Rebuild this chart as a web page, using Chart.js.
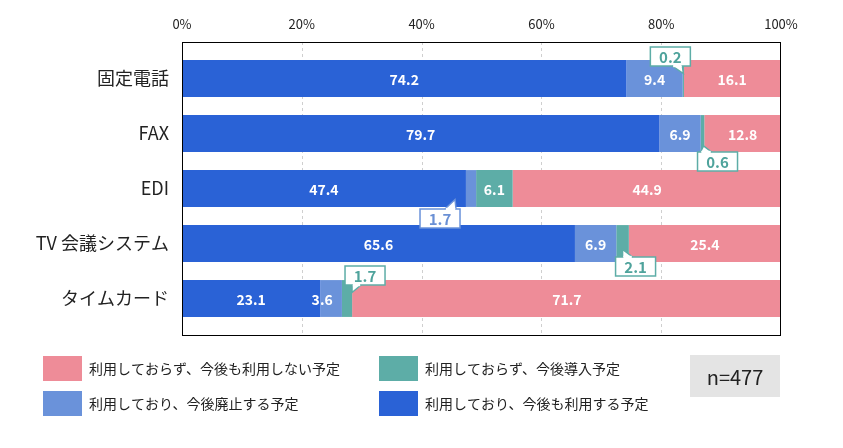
<!DOCTYPE html>
<html><head><meta charset="utf-8">
<script src="https://cdn.jsdelivr.net/npm/chart.js@4"></script>
<style>html,body{margin:0;padding:0;background:#fff}#wrap{width:843px;height:448px;position:relative}</style>
</head><body><div id="wrap"><canvas id="c"></canvas></div>
<script>
const categories = ['固定電話', 'FAX', 'EDI', 'TV 会議システム', 'タイムカード'];
const keepUsing = [74.2, 79.7, 47.4, 65.6, 23.1];   // 利用しており、今後も利用する予定
const abolish = [9.4, 6.9, 1.7, 6.9, 3.6];          // 利用しており、今後廃止する予定
const introduce = [0.2, 0.6, 6.1, 2.1, 1.7];        // 利用しておらず、今後導入予定
const notUsing = [16.1, 12.8, 44.9, 25.4, 71.7];    // 利用しておらず、今後も利用しない予定
const seriesNames = ['利用しており、今後も利用する予定', '利用しており、今後廃止する予定', '利用しておらず、今後導入予定', '利用しておらず、今後も利用しない予定'];
const xTickValues = [0, 20, 40, 60, 80, 100];
const sampleLabel = 'n=477';

const COLORS = ['#2a62d6', '#6a92da', '#5dada7', '#ee8c98'];
const CALLOUT_TEXT = ['#2a62d6', '#6a90d5', '#4fa39c', '#ee8c98'];
const FONT = '"Noto Sans CJK JP", "Noto Sans", sans-serif';
const EXT = 9; // frame extends beyond chart area

// callout layout (style): key "dataset-index"
const callouts = {
  '2-0': {box: [-13, -22], tip: [0, -5], base: [-11, -1]},
  '2-1': {box: [15, 28], tip: [1, 12.5], base: [-3, 8]},
  '1-2': {box: [-31, 30], tip: [-16, 11], base: [-10, 1]},
  '2-3': {box: [13, 23], tip: [0, 6], base: [0, 10]},
  '2-4': {box: [18, -23], tip: [5, -6], base: [0, 9]}
};
const labelShift = {'1-4': -9};

const seriesData = [keepUsing, abolish, introduce, notUsing];

const decor = {
  id: 'decor',
  beforeDatasetsDraw(chart) {
    const {ctx, chartArea: a, scales: {x}} = chart;
    ctx.save();
    ctx.strokeStyle = '#cfcfcf';
    ctx.lineWidth = 1;
    ctx.setLineDash([3, 3]);
    xTickValues.slice(1, -1).forEach(v => {
      const px = Math.round(x.getPixelForValue(v)) + 0.5;
      ctx.beginPath();
      ctx.moveTo(px, a.top - EXT);
      ctx.lineTo(px, a.bottom + EXT);
      ctx.stroke();
    });
    ctx.restore();
  },
  afterDatasetsDraw(chart) {
    const {ctx, chartArea: a} = chart;
    ctx.save();
    ctx.textAlign = 'center';
    ctx.textBaseline = 'middle';
    chart.data.datasets.forEach((ds, di) => {
      const meta = chart.getDatasetMeta(di);
      meta.data.forEach((bar, i) => {
        const v = ds.data[i];
        const key = di + '-' + i;
        const cx = (bar.x + bar.base) / 2;
        const cy = bar.y;
        if (callouts[key]) {
          const c = callouts[key];
          const bw = 40, bh = 19;
          const bx = cx + c.box[0] - bw / 2, by = cy + c.box[1] - bh / 2;
          const tx = cx + c.tip[0], ty = cy + c.tip[1];
          const above = c.box[1] < 0;
          const edge = above ? by + bh : by;
          ctx.fillStyle = '#fff';
          ctx.strokeStyle = COLORS[di];
          ctx.lineWidth = 1.5;
          ctx.fillRect(bx, by, bw, bh);
          ctx.strokeRect(bx, by, bw, bh);
          const b1 = tx + c.base[0], b2 = tx + c.base[1];
          ctx.beginPath();
          ctx.moveTo(b1, edge);
          ctx.lineTo(tx, ty);
          ctx.lineTo(b2, edge);
          ctx.closePath();
          ctx.fill();
          ctx.beginPath();
          ctx.moveTo(b1, edge);
          ctx.lineTo(tx, ty);
          ctx.lineTo(b2, edge);
          ctx.stroke();
          ctx.fillRect(Math.min(b1, b2) + 0.8, edge - 1.2, Math.abs(b2 - b1) - 1.6, 2.4);
          ctx.fillStyle = CALLOUT_TEXT[di];
          ctx.font = 'bold 15px ' + FONT;
          ctx.fillText(v.toFixed(1), bx + bw / 2, by + bh / 2 + 1);
        } else {
          ctx.fillStyle = '#fff';
          ctx.font = 'bold 14px ' + FONT;
          ctx.fillText(v.toFixed(1), cx + (labelShift[key] || 0), cy + 1);
        }
      });
    });
    ctx.strokeStyle = '#000';
    ctx.lineWidth = 1;
    ctx.setLineDash([]);
    ctx.strokeRect(Math.round(a.left) + 0.5, Math.round(a.top - EXT) + 0.5, Math.round(a.right - a.left) - 1, Math.round(a.bottom - a.top + 2 * EXT));
    ctx.restore();
  },
  afterDraw(chart) {
    const {ctx} = chart;
    ctx.save();
    const order = [3, 2, 1, 0];
    const pos = [[43, 356], [379, 356], [43, 391], [379, 391]];
    ctx.textAlign = 'left';
    ctx.textBaseline = 'middle';
    ctx.font = '14px ' + FONT;
    order.forEach((si, k) => {
      const [lx, ly] = pos[k];
      ctx.fillStyle = COLORS[si];
      ctx.fillRect(lx, ly, 39, 25);
      ctx.fillStyle = '#222';
      ctx.fillText(seriesNames[si], lx + 46, ly + 13);
    });
    ctx.fillStyle = '#e4e4e4';
    ctx.fillRect(690, 355, 90, 42);
    ctx.fillStyle = '#222';
    ctx.textAlign = 'center';
    ctx.font = '20px ' + FONT;
    ctx.fillText(sampleLabel, 735, 377);
    ctx.restore();
  }
};

new Chart(document.getElementById('c'), {
  type: 'bar',
  data: {
    labels: categories,
    datasets: seriesData.map((d, i) => ({
      label: seriesNames[i],
      data: d,
      backgroundColor: COLORS[i],
      borderWidth: 0,
      barPercentage: 0.67,
      categoryPercentage: 1
    }))
  },
  options: {
    indexAxis: 'y',
    responsive: true,
    maintainAspectRatio: false,
    animation: false,
    layout: {padding: {left: 0, right: 62, top: 0, bottom: 122}},
    plugins: {legend: {display: false}, tooltip: {enabled: false}},
    scales: {
      x: {
        position: 'top',
        stacked: true,
        min: 0, max: 100,
        afterBuildTicks(s) { s.ticks = xTickValues.map(v => ({value: v})); },
        afterFit(s) { s.height = 51; },
        grid: {display: false, drawTicks: false},
        border: {display: false},
        ticks: {
          padding: 19,
          color: '#222',
          font: {family: FONT, size: 13},
          callback: v => v + '%'
        }
      },
      y: {
        stacked: true,
        afterFit(s) { s.width = 182; },
        grid: {display: false, drawTicks: false},
        border: {display: false},
        ticks: {padding: 13, color: '#222', font: {family: FONT, size: 18}}
      }
    }
  },
  plugins: [decor]
});
</script></body></html>
